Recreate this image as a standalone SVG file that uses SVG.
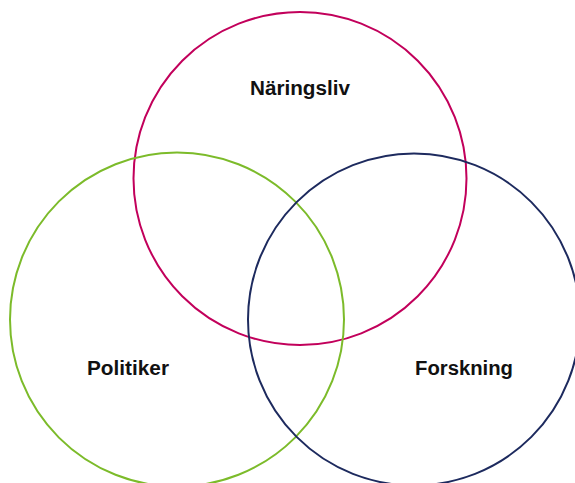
<svg xmlns="http://www.w3.org/2000/svg" width="575" height="483" viewBox="0 0 575 483">
<style>
.c{fill:none;stroke-width:2}
.t{font-family:"Liberation Sans",Arial,sans-serif;font-weight:bold;font-size:20px;fill:#111;text-anchor:middle}
</style>
<rect width="575" height="483" fill="#fff"/>
<g id="naringsliv">
<circle class="c" cx="300" cy="178.5" r="166.5" stroke="#c2005b"/>
<text class="t" x="300" y="95" textLength="100" lengthAdjust="spacingAndGlyphs">Näringsliv</text>
</g>
<g id="politiker">
<circle class="c" cx="177" cy="319.5" r="167" stroke="#7cbb2a"/>
<text class="t" x="128" y="375" textLength="82" lengthAdjust="spacingAndGlyphs">Politiker</text>
</g>
<g id="forskning">
<circle class="c" cx="414" cy="319.5" r="166" stroke="#1d2a5e"/>
<text class="t" x="464" y="375" textLength="98" lengthAdjust="spacingAndGlyphs">Forskning</text>
</g>
<g id="connectors"></g>
</svg>
